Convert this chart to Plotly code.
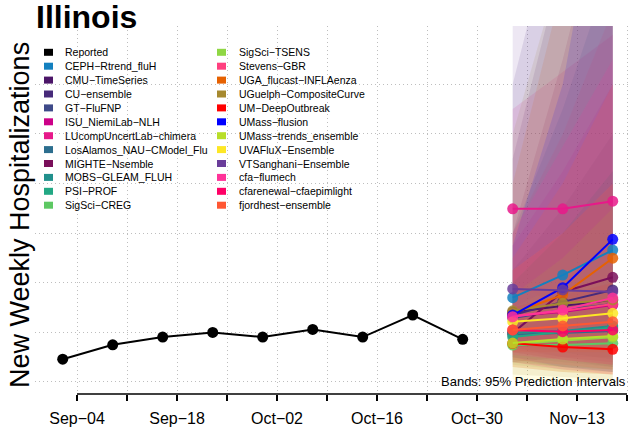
import plotly.graph_objects as go

# ---------------- data ----------------
reported_dates = ["2023-09-02", "2023-09-09", "2023-09-16", "2023-09-23", "2023-09-30",
                  "2023-10-07", "2023-10-14", "2023-10-21", "2023-10-28"]
reported_values = [9.2, 15.0, 18.1, 20.0, 18.1, 21.2, 18.1, 27.0, 17.2]

forecast_dates = ["2023-11-04", "2023-11-11", "2023-11-18"]

model_names = ["CEPH-Rtrend_fluH", "CMU-TimeSeries", "CU-ensemble", "GT-FluFNP",
               "ISU_NiemiLab-NLH", "LUcompUncertLab-chimera", "LosAlamos_NAU-CModel_Flu",
               "MIGHTE-Nsemble", "MOBS-GLEAM_FLUH", "PSI-PROF", "SigSci-CREG",
               "SigSci-TSENS", "Stevens-GBR", "UGA_flucast-INFLAenza", "UGuelph-CompositeCurve",
               "UM-DeepOutbreak", "UMass-flusion", "UMass-trends_ensemble", "UVAFluX-Ensemble",
               "VTSanghani-Ensemble", "cfa-flumech", "cfarenewal-cfaepimlight", "fjordhest-ensemble"]
model_colors = ["#1380BF", "#4B1568", "#472A7A", "#3E4A89", "#CC0088", "#E7198A", "#2C6E8E",
                "#7A0F5A", "#21908C", "#22A884", "#5DC863", "#8FD744", "#FF3F7F", "#E66101",
                "#A6892F", "#FF0000", "#0000FF", "#B8DE29", "#FDE725", "#6A3D9A", "#FF3399",
                "#FF0066", "#FF5733"]

fc_median = [
    [34.0, 43.1, 53.2], [28.2, 30.6, 33.1], [27.0, 32.3, 37.1], [25.8, 29.0, 31.4],
    [26.6, 28.2, 31.0], [69.8, 69.8, 72.9], [19.0, 19.8, 20.6], [19.8, 36.3, 42.2],
    [19.8, 20.6, 22.6], [18.1, 20.2, 21.8], [14.9, 14.9, 15.6], [15.3, 16.7, 18.0],
    [26.6, 28.6, 31.4], [27.7, 35.1, 49.9], [28.7, 31.7, 33.1], [15.6, 14.1, 13.2],
    [27.0, 38.0, 57.5], [15.7, 17.3, 18.5], [24.3, 25.7, 27.7], [37.5, 37.1, 36.4],
    [26.3, 29.0, 33.9], [21.0, 20.3, 21.0], [21.0, 22.6, 24.3],
]
fc_lower = [
    [18, 15, 12], [12, 9, 6], [14, 10, 7], [15, 12, 9], [13, 10, 8], [40, 30, 25],
    [9, 6, 4], [8, 10, 10], [10, 8, 6], [8, 6, 5], [7, 5, 4], [8, 6, 5], [12, 9, 7],
    [12, 12, 12], [3, 2, 1], [6, 4, 3], [14, 15, 16], [6, 4, 3], [1, 0, 0], [10, 6, 4],
    [11, 9, 7], [8, 5, 3], [9, 7, 5],
]
fc_upper = [
    [60, 110, 170], [90, 170, 280], [120, 200, 320], [45, 70, 100], [55, 85, 120],
    [110, 125, 140], [40, 60, 85], [60, 130, 210], [35, 50, 70], [40, 60, 85],
    [28, 35, 42], [30, 40, 50], [60, 100, 150], [80, 160, 260], [100, 170, 260],
    [30, 35, 40], [55, 120, 230], [35, 50, 70], [45, 60, 80], [160, 280, 450],
    [60, 95, 130], [45, 60, 80], [50, 80, 120],
]

tick_dates = ["2023-09-04", "2023-09-11", "2023-09-18", "2023-09-25", "2023-10-02",
              "2023-10-09", "2023-10-16", "2023-10-23", "2023-10-30", "2023-11-06",
              "2023-11-13", "2023-11-20"]
tick_labels = ["Sep\u221204", "", "Sep\u221218", "", "Oct\u221202", "", "Oct\u221216", "",
               "Oct\u221230", "", "Nov\u221213", ""]
y_grid = [0, 20, 40, 60, 80, 100, 120]

# ---------------- layout helpers (page pixels) ----------------
W, H = 629, 433
PL, PR, PT, PB = 35, 629, 26, 394          # plot area in page pixels
ML, MT = PL, PT
MR, MB = (W - PR), (H - PB)
PW, PH = PR - PL, PB - PT


def px_x(x):
    return (x - PL) / PW


def px_y(y):
    return (PB - y) / PH


def rgba(hx, a):
    hx = hx.lstrip("#")
    r, g, b = int(hx[0:2], 16), int(hx[2:4], 16), int(hx[4:6], 16)
    return f"rgba({r},{g},{b},{a})"


FONT = "Liberation Sans, Arial, Helvetica, sans-serif"

fig = go.Figure()

# prediction bands
for name, col, lo, hi in zip(model_names, model_colors, fc_lower, fc_upper):
    fig.add_trace(go.Scatter(
        x=forecast_dates + forecast_dates[::-1],
        y=lo + hi[::-1],
        fill="toself", fillcolor=rgba(col, 0.12),
        line=dict(width=0), mode="lines",
        hoverinfo="skip", showlegend=False,
    ))

# medians
for name, col, med in zip(model_names, model_colors, fc_median):
    fig.add_trace(go.Scatter(
        x=forecast_dates, y=med, mode="lines+markers", name=name,
        line=dict(color=col, width=2),
        marker=dict(color=rgba(col, 0.85), size=11),
        showlegend=False,
    ))

# reported
fig.add_trace(go.Scatter(
    x=reported_dates, y=reported_values, mode="lines+markers", name="Reported",
    line=dict(color="black", width=2), marker=dict(color="black", size=11),
    showlegend=False,
))

# ---------------- manual legend ----------------
shapes = []
annotations = []
left_names = ["Reported"] + model_names[:11]
left_cols = ["#000000"] + model_colors[:11]
right_names = model_names[11:]
right_cols = model_colors[11:]
row0, dy = 52.3, 13.9
for names, cols, sx, tx in [(left_names, left_cols, 44, 63), (right_names, right_cols, 217, 236.5)]:
    for i, (n, c) in enumerate(zip(names, cols)):
        yc = row0 + i * dy
        shapes.append(dict(type="rect", xref="paper", yref="paper",
                           x0=px_x(sx), x1=px_x(sx + 9), y0=px_y(yc + 3.5), y1=px_y(yc - 3.5),
                           fillcolor=c, line=dict(width=0), layer="above"))
        annotations.append(dict(text=n.replace("-", "\u2212"), xref="paper", yref="paper",
                                x=px_x(tx), y=px_y(yc), xanchor="left", yanchor="middle",
                                showarrow=False, font=dict(size=10.5, color="black", family=FONT)))

# x axis line (first to last tick)
shapes.append(dict(type="line", xref="x", yref="paper", x0=tick_dates[0], x1=tick_dates[-1],
                   y0=0, y1=0, line=dict(color="black", width=1.5), layer="above"))

annotations.append(dict(text="<b>Illinois</b>", xref="paper", yref="paper",
                        x=px_x(34), y=px_y(17), xanchor="left", yanchor="middle",
                        showarrow=False, font=dict(size=32, color="black", family=FONT)))
annotations.append(dict(text="New Weekly Hospitalizations", xref="paper", yref="paper",
                        x=px_x(20), y=px_y(215), xanchor="center", yanchor="middle",
                        textangle=-90, showarrow=False,
                        font=dict(size=27, color="black", family=FONT)))
annotations.append(dict(text="Bands: 95% Prediction Intervals", xref="paper", yref="paper",
                        x=px_x(628), y=px_y(381), xanchor="right", yanchor="middle",
                        showarrow=False, font=dict(size=13, color="black", family=FONT)))

fig.update_layout(
    width=W, height=H,
    margin=dict(l=ML, r=MR, t=MT, b=MB, pad=0),
    paper_bgcolor="white", plot_bgcolor="white",
    showlegend=False,
    shapes=shapes, annotations=annotations,
    font=dict(family=FONT, color="black"),
    xaxis=dict(
        type="date",
        range=["2023-08-29 02:53", "2023-11-20 06:43"],
        tickmode="array", tickvals=tick_dates, ticktext=tick_labels,
        ticks="outside", ticklen=6, tickwidth=1.5, tickcolor="black",
        tickfont=dict(size=16, color="black", family=FONT),
        ticklabelstandoff=4,
        showgrid=True, gridcolor="#BEBEBE", griddash="1px,3px", gridwidth=1,
        showline=False, zeroline=False,
    ),
    yaxis=dict(
        range=[-4.84, 143.5],
        tickmode="array", tickvals=y_grid,
        showticklabels=False, ticks="",
        showgrid=True, gridcolor="#BEBEBE", griddash="1px,3px", gridwidth=1,
        showline=False, zeroline=False,
    ),
)

fig.write_html("out.html", config={"displayModeBar": False},
               post_script="document.body.style.margin='0';")
